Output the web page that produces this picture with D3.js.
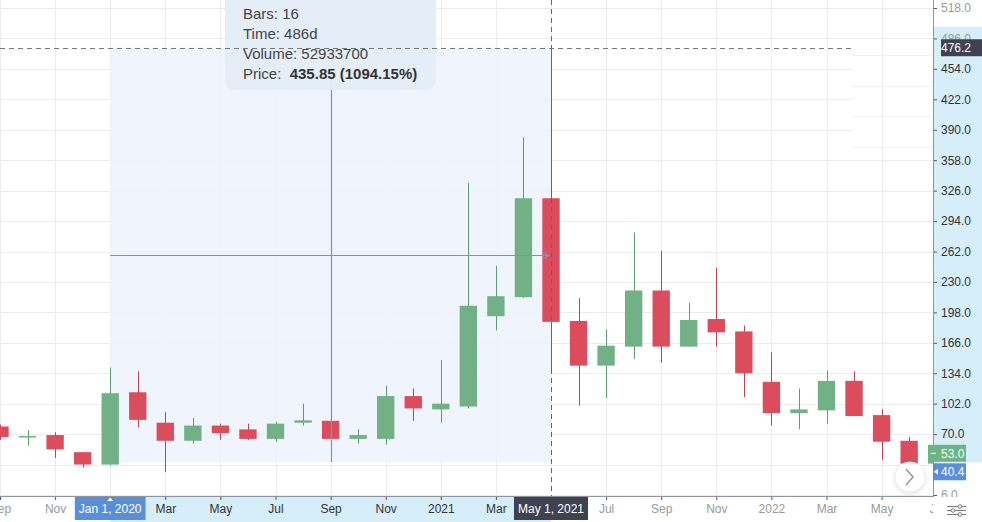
<!DOCTYPE html>
<html>
<head>
<meta charset="utf-8">
<script src="https://cdn.jsdelivr.net/npm/d3@7/dist/d3.min.js"></script>
<style>
  html, body { margin: 0; padding: 0; background: #fff; }
  svg { display: block; font-family: "Liberation Sans", Arial, sans-serif; }
</style>
</head>
<body>
<svg id="chart" width="982" height="522"></svg>
<script>
// ---- Data (monthly candles, Sep 2019 .. Jul 2022) ----
const months = ["2019-09","2019-10","2019-11","2019-12","2020-01","2020-02","2020-03","2020-04","2020-05","2020-06","2020-07","2020-08","2020-09","2020-10","2020-11","2020-12","2021-01","2021-02","2021-03","2021-04","2021-05","2021-06","2021-07","2021-08","2021-09","2021-10","2021-11","2021-12","2022-01","2022-02","2022-03","2022-04","2022-05","2022-06","2022-07"];
const open  = [78, 67, 69, 51, 38, 114, 82, 63, 79, 75, 65, 82, 84, 65, 65, 110, 96, 99, 194, 214, 318, 189, 142, 162, 221, 162, 191, 178, 125, 92, 95, 126, 90, 63, 39];
const high  = [80, 74, 72, 51, 140, 136, 93, 87, 81, 81, 83, 102, 86, 75, 121, 118, 148, 334, 247, 382, 476.2, 213, 180, 282, 263, 208, 245, 184, 156, 118, 137, 136, 96, 67, 55];
const low   = [64, 58, 45, 35, 37, 77, 30, 60, 64, 64, 62, 79, 62, 60, 59, 84, 82, 97, 179, 213, 135, 100, 108, 149, 145, 162, 162, 109, 79, 75, 81, 89, 43, 35, 37];
const close = [67, 68, 54, 38, 113, 85, 63, 79, 71, 65, 81, 84.5, 65, 69, 110, 97, 102, 205, 215, 318, 188, 142, 163, 221, 162, 190, 177, 134, 92, 96, 126, 89, 62, 39, 53];

const yTicks = [6, 38, 70, 102, 134, 166, 198, 230, 262, 294, 326, 358, 390, 422, 454, 486, 518];
const xTickIndex  = [0, 2, 4, 6, 8, 10, 12, 14, 16, 18, 20, 22, 24, 26, 28, 30, 32, 34];
const xTickLabels = ["Sep","Nov","2020","Mar","May","Jul","Sep","Nov","2021","Mar","May","Jul","Sep","Nov","2022","Mar","May","Jul"];

// Measurement tool (from Jan 2020 to May 2021)
const measureFrom = 4, measureTo = 20;
const measureLow = 40.4, measureHigh = 476.2;
const crossIndex = 20, crossPrice = 476.2;
const lastPrice = 53.0;
const tooltipLines = ["Bars: 16", "Time: 486d", "Volume: 52933700"];
const tooltipPriceLabel = "Price:  ";
const tooltipPriceValue = "435.85 (1094.15%)";
const fromLabel = "Jan 1, 2020", toLabel = "May 1, 2021";

// ---- Layout ----
const W = 982, H = 522;
const plotR = 933, plotB = 496;
const UP = "#72b086", DOWN = "#db4d5c";
const UPW = "#5f9c73", DOWNW = "#c2404f";
const MEAS = "#6b98d4";

const x = d3.scaleLinear().domain([0, 34]).range([0, 936.7]);
const y = d3.scaleLinear().domain([6, 518]).range([495, 8]);
const step = x(1) - x(0);
const bw = step * 0.63;

const svg = d3.select("#chart");
const defs = svg.append("defs");
defs.append("clipPath").attr("id", "plotClip").append("rect")
  .attr("x", 0).attr("y", 0).attr("width", plotR).attr("height", plotB);
defs.append("clipPath").attr("id", "xClip").append("rect")
  .attr("x", 0).attr("y", plotB).attr("width", plotR).attr("height", H - plotB);
defs.append("clipPath").attr("id", "yClip").append("rect")
  .attr("x", plotR).attr("y", 0).attr("width", W - plotR).attr("height", plotB + 1);
const m = defs.append("marker").attr("id", "arrow").attr("viewBox", "0 0 10 10")
  .attr("refX", 9).attr("refY", 5).attr("markerWidth", 8).attr("markerHeight", 8)
  .attr("orient", "auto-start-reverse").attr("markerUnits", "userSpaceOnUse");
m.append("path").attr("d", "M1,1 L9,5 L1,9").attr("fill", "none").attr("stroke", MEAS).attr("stroke-width", 1.5);
const f = defs.append("filter").attr("id", "shadow").attr("x", "-50%").attr("y", "-50%").attr("width", "200%").attr("height", "200%");
f.append("feDropShadow").attr("dx", 0).attr("dy", 1).attr("stdDeviation", 2).attr("flood-color", "#000").attr("flood-opacity", 0.15);

const plot = svg.append("g").attr("clip-path", "url(#plotClip)");

// Grid
plot.append("g").selectAll("line").data(xTickIndex).join("line")
  .attr("x1", d => Math.round(x(d)) + 0.5).attr("x2", d => Math.round(x(d)) + 0.5)
  .attr("y1", 0).attr("y2", plotB).attr("stroke", "#ececec");
plot.append("g").selectAll("line").data(yTicks).join("line")
  .attr("x1", 0).attr("x2", plotR)
  .attr("y1", d => Math.round(y(d)) + 0.5).attr("y2", d => Math.round(y(d)) + 0.5).attr("stroke", "#ececec");

// Measurement fill
plot.append("rect")
  .attr("x", x(measureFrom)).attr("y", y(measureHigh))
  .attr("width", x(measureTo) - x(measureFrom)).attr("height", y(measureLow) - y(measureHigh))
  .attr("fill", "#eef3fc").attr("fill-opacity", 0.9);

// Overlay artifact region at right
const art = plot.append("g");
art.append("rect").attr("x", 852).attr("y", 42).attr("width", plotR - 852).attr("height", 110).attr("fill", "#fff");
art.selectAll("line.a").data(yTicks.filter(d => d >= 390 && d <= 486)).join("line")
  .attr("x1", 852).attr("x2", plotR)
  .attr("y1", d => Math.round(y(d)) + 17.5).attr("y2", d => Math.round(y(d)) + 17.5).attr("stroke", "#f0f0f0");
art.append("line").attr("x1", Math.round(x(32)) + 0.5).attr("x2", Math.round(x(32)) + 0.5).attr("y1", 42).attr("y2", 152).attr("stroke", "#ececec");

// Candles
const idx = d3.range(months.length);
const candles = plot.append("g").selectAll("g").data(idx).join("g");
candles.append("line")
  .attr("x1", i => Math.round(x(i)) + 0.5).attr("x2", i => Math.round(x(i)) + 0.5)
  .attr("y1", i => y(high[i])).attr("y2", i => y(low[i]))
  .attr("stroke", i => close[i] >= open[i] ? UPW : DOWNW).attr("stroke-width", 1);
candles.append("rect")
  .attr("x", i => x(i) - bw / 2).attr("width", bw)
  .attr("y", i => y(Math.max(open[i], close[i])))
  .attr("height", i => Math.max(1.5, Math.abs(y(open[i]) - y(close[i]))))
  .attr("fill", i => close[i] >= open[i] ? UP : DOWN);

// Measurement lines
const midY = (y(measureHigh) + y(measureLow)) / 2;
const midX = (x(measureFrom) + x(measureTo)) / 2;
plot.append("line").attr("x1", x(measureFrom)).attr("x2", x(measureTo) - 2)
  .attr("y1", Math.round(midY) + 0.5).attr("y2", Math.round(midY) + 0.5)
  .attr("stroke", MEAS).attr("stroke-width", 1.2).attr("marker-end", "url(#arrow)");
plot.append("line").attr("x1", Math.round(midX) + 0.5).attr("x2", Math.round(midX) + 0.5)
  .attr("y1", y(measureLow)).attr("y2", y(measureHigh) + 2)
  .attr("stroke", MEAS).attr("stroke-width", 1.2).attr("marker-end", "url(#arrow)");

// Tooltip box
const tip = svg.append("g");
tip.append("rect").attr("x", 225).attr("y", -10).attr("width", 211).attr("height", 100).attr("rx", 9)
  .attr("fill", "#e4ecf7").attr("fill-opacity", 0.96);
tooltipLines.forEach((t, i) => {
  tip.append("text").attr("x", 243).attr("y", 18.5 + i * 20.3).attr("font-size", 15).attr("fill", "#444").text(t);
});
const pt = tip.append("text").attr("x", 243).attr("y", 18.5 + 3 * 20.3).attr("font-size", 15).attr("fill", "#444")
  .style("white-space", "pre");
pt.append("tspan").text(tooltipPriceLabel);
pt.append("tspan").attr("font-weight", "bold").attr("fill", "#333").text(tooltipPriceValue);

// Crosshair
svg.append("line").attr("x1", Math.round(x(crossIndex)) + 0.5).attr("x2", Math.round(x(crossIndex)) + 0.5)
  .attr("y1", 0).attr("y2", plotB).attr("stroke", "#666").attr("stroke-dasharray", "5,4");
svg.append("line").attr("x1", 0).attr("x2", 852)
  .attr("y1", Math.round(y(crossPrice)) + 0.5).attr("y2", Math.round(y(crossPrice)) + 0.5)
  .attr("stroke", "#777").attr("stroke-dasharray", "5,4");

// Positions of price labels on the y axis (shifted to avoid collisions)
const crossLabelY = y(crossPrice);
const lastLabelY = y(lastPrice) + 3;
const lowLabelY = y(measureLow) + 9.5;
const priceLabelYs = [lastLabelY, lowLabelY];

// ---- Y axis ----
svg.append("rect").attr("x", plotR).attr("y", y(measureHigh) - 21).attr("width", W - plotR)
  .attr("height", y(measureLow) - y(measureHigh) + 21).attr("fill", "#d5eefa");
const yAxisOuter = svg.append("g").attr("clip-path", "url(#yClip)");
const yAxisG = yAxisOuter.append("g").attr("transform", `translate(${plotR},0)`);
yAxisG.call(d3.axisRight(y).tickValues(yTicks)
  .tickFormat(d => priceLabelYs.some(py => Math.abs(py - y(d)) < 11) ? "" : d.toFixed(1))
  .tickSize(4).tickPadding(4));
yAxisG.select(".domain").remove();
yAxisG.selectAll(".tick line").attr("stroke", "#555");
yAxisG.selectAll(".tick text").attr("font-size", 12).attr("font-family", "Liberation Sans, Arial, sans-serif")
  .attr("fill", d => (d >= measureLow && d <= measureHigh) ? "#333" : "#999");
svg.append("line").attr("x1", plotR + 0.5).attr("x2", plotR + 0.5).attr("y1", 0).attr("y2", plotB + 1).attr("stroke", "#8f959e");

// ---- X axis ----
svg.append("rect").attr("x", x(measureFrom)).attr("y", plotB + 1).attr("width", x(measureTo) - x(measureFrom))
  .attr("height", H - plotB - 1).attr("fill", "#d5eefa");
const xAxisOuter = svg.append("g").attr("clip-path", "url(#xClip)");
const xAxisG = xAxisOuter.append("g").attr("transform", `translate(0,${plotB})`);
xAxisG.call(d3.axisBottom(x).tickValues(xTickIndex)
  .tickFormat((d, i) => (d === measureFrom || d === measureTo) ? "" : xTickLabels[i])
  .tickSize(4).tickPadding(4.5));
xAxisG.select(".domain").remove();
xAxisG.selectAll(".tick line").attr("stroke", "#555");
xAxisG.selectAll(".tick text").attr("font-size", 12).attr("font-family", "Liberation Sans, Arial, sans-serif")
  .attr("fill", d => (d >= measureFrom && d <= measureTo) ? "#333" : "#999");
svg.append("line").attr("x1", 0).attr("x2", plotR + 1).attr("y1", plotB + 0.5).attr("y2", plotB + 0.5).attr("stroke", "#8f959e");

// Range boxes on x axis
function xBox(i, label, fill) {
  const g = svg.append("g");
  const t = g.append("text").attr("x", x(i)).attr("y", 513).attr("text-anchor", "middle")
    .attr("font-size", 12).attr("fill", "#fff").text(label);
  const w = t.node().getComputedTextLength() + 8;
  g.insert("rect", "text").attr("x", x(i) - w / 2).attr("y", plotB + 1).attr("width", w).attr("height", 23).attr("fill", fill);
  return g;
}
xBox(measureFrom, fromLabel, "#5a8ed6");
xBox(measureTo, toLabel, "#3e4251");
svg.append("path").attr("d", `M${x(measureFrom) - 3},${plotB + 5} L${x(measureFrom)},${plotB + 1.5} L${x(measureFrom) + 3},${plotB + 5}Z`).attr("fill", "#fff");

// ---- Price labels on y axis ----
function yLabel(yc, x0, x1, fill, txt, arrow) {
  const g = svg.append("g");
  g.append("rect").attr("x", x0).attr("y", yc - 8.5).attr("width", x1 - x0).attr("height", 17).attr("fill", fill);
  g.append("text").attr("x", 941).attr("y", yc + 4.3).attr("font-size", 12).attr("fill", "#fff").text(txt);
  if (arrow === "dash") g.append("line").attr("x1", 931).attr("x2", 936).attr("y1", yc).attr("y2", yc).attr("stroke", "#fff");
  if (arrow === "tri") g.append("path").attr("d", `M${plotR + 1},${yc} L${plotR + 5},${yc - 3} L${plotR + 5},${yc + 3}Z`).attr("fill", "#fff");
}
yLabel(crossLabelY, 941, W, "#3e4251", crossPrice.toFixed(1), null);
yLabel(lastLabelY, 928, 966, "#6db484", lastPrice.toFixed(1), "dash");
yLabel(lowLabelY, plotR, 966, "#5a8ed6", measureLow.toFixed(1), "tri");

// ---- Scroll button ----
const btn = svg.append("g");
btn.append("circle").attr("cx", 910).attr("cy", 477).attr("r", 15).attr("fill", "#fff").attr("fill-opacity", 0.92)
  .attr("stroke", "#eee").attr("filter", "url(#shadow)");
btn.append("path").attr("d", "M906,469 L913,477 L906,485").attr("fill", "none").attr("stroke", "#9a9a9a").attr("stroke-width", 1.6);

// ---- Settings icon ----
const ic = svg.append("g").attr("stroke", "#777").attr("stroke-width", 1).attr("fill", "#fff");
[[506, 960], [510, 953], [514, 960]].forEach(([yy, cx]) => {
  ic.append("line").attr("x1", 947).attr("x2", 966).attr("y1", yy + 0.5).attr("y2", yy + 0.5);
  ic.append("circle").attr("cx", cx).attr("cy", yy + 0.5).attr("r", 1.8);
});
</script>
</body>
</html>
